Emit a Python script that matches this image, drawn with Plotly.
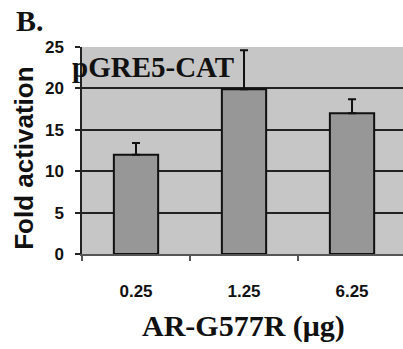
import plotly.graph_objects as go

# Transfection series: AR-G577R amount vs fold activation of pGRE5-CAT
doses = ["0.25", "1.25", "6.25"]
fold_activation = [12.0, 19.9, 17.0]
error_up = [1.4, 4.7, 1.7]
error_down = [0, 0, 0]
y_ticks = [0, 5, 10, 15, 20, 25]

tickfam = "Liberation Sans, Arial, sans-serif"
serif = "Liberation Serif, Times New Roman, serif"
sans = "Liberation Sans, Arial, sans-serif"

fig = go.Figure()
fig.add_bar(
    x=doses,
    y=fold_activation,
    width=0.41,
    marker=dict(color="#979797", line=dict(color="#111111", width=2)),
    error_y=dict(
        type="data",
        symmetric=False,
        array=error_up,
        arrayminus=error_down,
        color="#111111",
        thickness=2,
        width=4,
    ),
)

fig.update_layout(
    width=403,
    height=349,
    margin=dict(l=82, r=0, t=47, b=95),
    paper_bgcolor="white",
    plot_bgcolor="#c6c6c6",
    showlegend=False,
)

fig.update_xaxes(
    type="category",
    range=[-0.5, 2.472],
    tickson="boundaries",
    ticks="outside",
    ticklen=5,
    tickwidth=1.5,
    tickcolor="#555555",
    showline=True,
    linecolor="#555555",
    linewidth=1.5,
    showgrid=False,
    tickfont=dict(family=tickfam, size=17, color="#111111", weight="bold"),
    ticklabelstandoff=21,
)

fig.update_yaxes(
    range=[0, 25],
    tickvals=y_ticks,
    ticks="outside",
    ticklen=5,
    tickwidth=1.5,
    tickcolor="#222222",
    showline=True,
    linecolor="#222222",
    linewidth=1.5,
    showgrid=True,
    gridcolor="#222222",
    gridwidth=1.5,
    zeroline=False,
    tickfont=dict(family=tickfam, size=17, color="#111111", weight="bold"),
    ticklabelstandoff=8,
)

annotations = [
    dict(text="B.", x=-0.163, y=1.13, font=dict(family=serif, size=30, color="#111111", weight="bold")),
    dict(text="pGRE5-CAT", x=0.221, y=0.905, font=dict(family=serif, size=29, color="#111111", weight="bold")),
    dict(text="AR-G577R (\u03bcg)", x=0.502, y=-0.35, font=dict(family=serif, size=30, color="#111111", weight="bold")),
    dict(text="Fold activation", x=-0.181, y=0.464, textangle=-90, font=dict(family=sans, size=26, color="#111111", weight="bold")),
]
for a in annotations:
    fig.add_annotation(xref="paper", yref="paper", showarrow=False,
                       xanchor="center", yanchor="middle", **a)

fig.write_html("out.html")
